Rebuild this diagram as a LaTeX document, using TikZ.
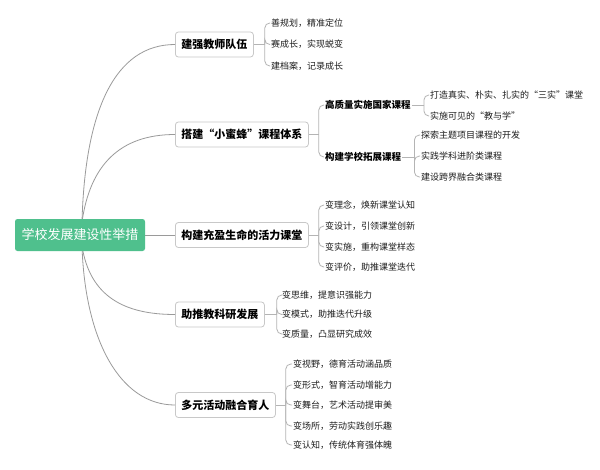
\documentclass[tikz,border=0pt]{standalone}
\usepackage{fontspec}
\setmainfont{Noto Sans CJK SC}
\usetikzlibrary{positioning}

\definecolor{RootGreen}{HTML}{4FC08D}
\definecolor{LinkGray}{HTML}{9A9A9A}
\definecolor{BracketGray}{HTML}{B4B4B4}
\definecolor{BoxGray}{HTML}{C8C8C8}
\definecolor{LeafText}{HTML}{1E1E1E}

\tikzset{
  root/.style={fill=RootGreen,text=white,rounded corners=2.5pt,
    font=\fontsize{13}{15}\selectfont,minimum width=130pt,minimum height=32pt,inner sep=0pt},
  topic/.style={draw=BoxGray,line width=0.8pt,fill=white,rounded corners=3pt,
    font=\fontsize{11}{13}\selectfont\bfseries,minimum height=25pt,inner xsep=6pt,inner ysep=0pt,anchor=west},
  subtopic/.style={font=\fontsize{9.5}{11}\selectfont\bfseries,anchor=west,inner sep=1pt},
  leaf/.style={font=\fontsize{9}{11}\selectfont,text=LeafText,anchor=west,inner sep=1pt},
  link/.style={draw=LinkGray,line width=0.8pt},
  bracket/.style={draw=BracketGray,line width=0.8pt,rounded corners=5pt},
}

\begin{document}
\begin{tikzpicture}[x=1pt,y=-1pt]
    \fill[white] (0,0) rectangle (600,469);
    \useasboundingbox (0,0) rectangle (600,469);

    % main topics
    \node[topic] (jiaoshi) at (175,44.5) {建强教师队伍};
    \node[topic] (kecheng) at (175,134.5) {搭建“小蜜蜂”课程体系};
    \node[topic] (ketang) at (175,235) {构建充盈生命的活力课堂};
    \node[topic] (keyan) at (175,314.5) {助推教科研发展};
    \node[topic] (huodong) at (175,405) {多元活动融合育人};

    \draw[link] (82,222) .. controls (85,110) and (115,44.5) .. (jiaoshi.west);
    \draw[link] (82,222) .. controls (90,165) and (120,134.5) .. (kecheng.west);
    \draw[link] (82,246) .. controls (90,297) and (125,314.5) .. (keyan.west);
    \draw[link] (82,246) .. controls (85,340) and (120,405) .. (huodong.west);
    \node[root] (root) at (80,235) {学校发展建设性举措};
    \draw[link] (root.east) -- (ketang.west);

    % 建强教师队伍
    \coordinate[right=11pt of jiaoshi] (jiaoshiB);
    \draw[bracket] (jiaoshi.east) -- (jiaoshiB);
    \foreach \k/\y/\txt in {1/23/{善规划，精准定位},2/44.5/{赛成长，实现蜕变},3/66/{建档案，记录成长}}{
      \node[leaf] (jiaoshi-\k) at (270,\y) {\txt};
      \draw[bracket] (jiaoshiB) |- (jiaoshi-\k.west);
    }

    % 课程体系
    \coordinate[right=10pt of kecheng] (kechengB);
    \draw[bracket] (kecheng.east) -- (kechengB);
    \node[subtopic] (guojia) at (324,105) {高质量实施国家课程};
    \node[subtopic] (tuozhan) at (324,157) {构建学校拓展课程};
    \draw[bracket] (kechengB) |- (guojia.west);
    \draw[bracket] (kechengB) |- (tuozhan.west);

    \coordinate[right=12pt of guojia] (guojiaB);
    \draw[bracket] (guojia.east) -- (guojiaB);
    \foreach \k/\y/\txt in {1/95/{打造真实、朴实、扎实的“三实”课堂},2/116/{实施可见的“教与学”}}{
      \node[leaf] (guojia-\k) at (429,\y) {\txt};
      \draw[bracket] (guojiaB) |- (guojia-\k.west);
    }

    \coordinate[right=12pt of tuozhan] (tuozhanB);
    \draw[bracket] (tuozhan.east) -- (tuozhanB);
    \foreach \k/\y/\txt in {1/135/{探索主题项目课程的开发},2/156/{实践学科进阶类课程},3/177/{建设跨界融合类课程}}{
      \node[leaf] (tuozhan-\k) at (420,\y) {\txt};
      \draw[bracket] (tuozhanB) |- (tuozhan-\k.west);
    }

    % 活力课堂
    \coordinate[right=10pt of ketang] (ketangB);
    \draw[bracket] (ketang.east) -- (ketangB);
    \foreach \k/\y/\txt in {1/205/{变理念，焕新课堂认知},2/226/{变设计，引领课堂创新},3/247/{变实施，重构课堂样态},4/267/{变评价，助推课堂迭代}}{
      \node[leaf] (ketang-\k) at (324,\y) {\txt};
      \draw[bracket] (ketangB) |- (ketang-\k.west);
    }

    % 教科研
    \coordinate[right=12pt of keyan] (keyanB);
    \draw[bracket] (keyan.east) -- (keyanB);
    \foreach \k/\y/\txt in {1/295/{变思维，提意识强能力},2/314.5/{变模式，助推迭代升级},3/334/{变质量，凸显研究成效}}{
      \node[leaf] (keyan-\k) at (281,\y) {\txt};
      \draw[bracket] (keyanB) |- (keyan-\k.west);
    }

    % 活动育人
    \coordinate[right=10pt of huodong] (huodongB);
    \draw[bracket] (huodong.east) -- (huodongB);
    \foreach \k/\y/\txt in {1/364/{变视野，德育活动涵品质},2/385/{变形式，智育活动增能力},3/405/{变舞台，艺术活动提审美},4/426/{变场所，劳动实践创乐趣},5/445/{变认知，传统体育强体魄}}{
      \node[leaf] (huodong-\k) at (292,\y) {\txt};
      \draw[bracket] (huodongB) |- (huodong-\k.west);
    }
\end{tikzpicture}
\end{document}
